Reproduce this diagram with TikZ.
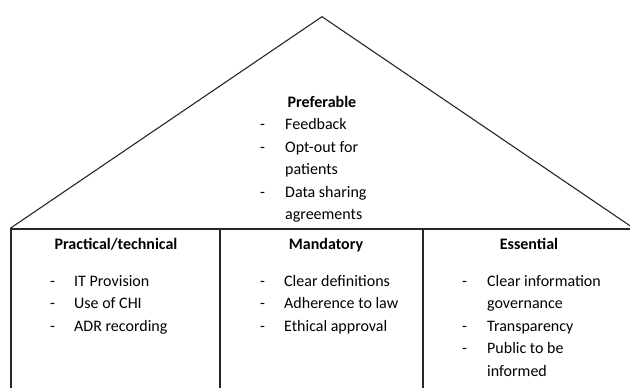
\documentclass[tikz,border=0pt]{standalone}
\usepackage{fontspec}
\setmainfont{Carlito}
\begin{document}
\begin{tikzpicture}[x=1pt,y=-1pt,
  txt/.style={inner sep=0pt,anchor=base west,font=\fontsize{16}{22.5}\selectfont},
  ttl/.style={inner sep=0pt,anchor=base,font=\fontsize{16}{22.5}\selectfont\bfseries},
  bar/.style={inner sep=0pt,anchor=base west,font=\fontsize{16}{22.5}\selectfont},
  edge/.style={draw=black!85,line width=1.1pt}]
\useasboundingbox (0,0) rectangle (630,388);
\clip (0,0) rectangle (630,388);
% roof
\coordinate (apex) at (322,16.7);
\coordinate (roofL) at (10.7,228);
\coordinate (roofR) at (633.3,228);
\draw[edge,line join=miter] (roofL) -- (apex) -- (roofR);
% body
\coordinate (boxTL) at (11,229);
\coordinate (boxTR) at (640,229);
\coordinate (boxBL) at (11,395);
\coordinate (d1T) at (220,229);
\coordinate (d1B) at (220,395);
\coordinate (d2T) at (423,229);
\coordinate (d2B) at (423,395);
\draw[edge] (boxBL) -- (boxTL) -- (boxTR);
\draw[edge] (d1T) -- (d1B);
\draw[edge] (d2T) -- (d2B);
% preferable
\node[ttl] (pref) at (322,107) {Preferable};
\node[bar] (pd1) at (260,129.5) {-};
\node[txt] (p1) at (285,129.5) {Feedback};
\node[bar] (pd2) at (260,152) {-};
\node[txt] (p2) at (285,152) {Opt-out for};
\node[txt] (p2b) at (285,174.5) {patients};
\node[bar] (pd3) at (260,197) {-};
\node[txt] (p3) at (285,197) {Data sharing};
\node[txt] (p3b) at (285,219.5) {agreements};
% practical
\node[ttl] (prac) at (116,249) {Practical/technical};
\node[bar] (ad1) at (50,286) {-};
\node[txt] (a1) at (74,286) {IT Provision};
\node[bar] (ad2) at (50,308.5) {-};
\node[txt] (a2) at (74,308.5) {Use of CHI};
\node[bar] (ad3) at (50,331) {-};
\node[txt] (a3) at (74,331) {ADR recording};
% mandatory
\node[ttl] (mand) at (326,249) {Mandatory};
\node[bar] (bd1) at (260,286) {-};
\node[txt] (b1) at (284,286) {Clear definitions};
\node[bar] (bd2) at (260,308.5) {-};
\node[txt] (b2) at (284,308.5) {Adherence to law};
\node[bar] (bd3) at (260,331) {-};
\node[txt] (b3) at (284,331) {Ethical approval};
% essential
\node[ttl] (ess) at (529,249) {Essential};
\node[bar] (cd1) at (462,286) {-};
\node[txt] (c1) at (487,286) {Clear information};
\node[txt] (c1b) at (487,308.5) {governance};
\node[bar] (cd2) at (462,331) {-};
\node[txt] (c2) at (487,331) {Transparency};
\node[bar] (cd3) at (462,353.5) {-};
\node[txt] (c3) at (487,353.5) {Public to be};
\node[txt] (c3b) at (487,376) {informed};
\end{tikzpicture}
\end{document}
